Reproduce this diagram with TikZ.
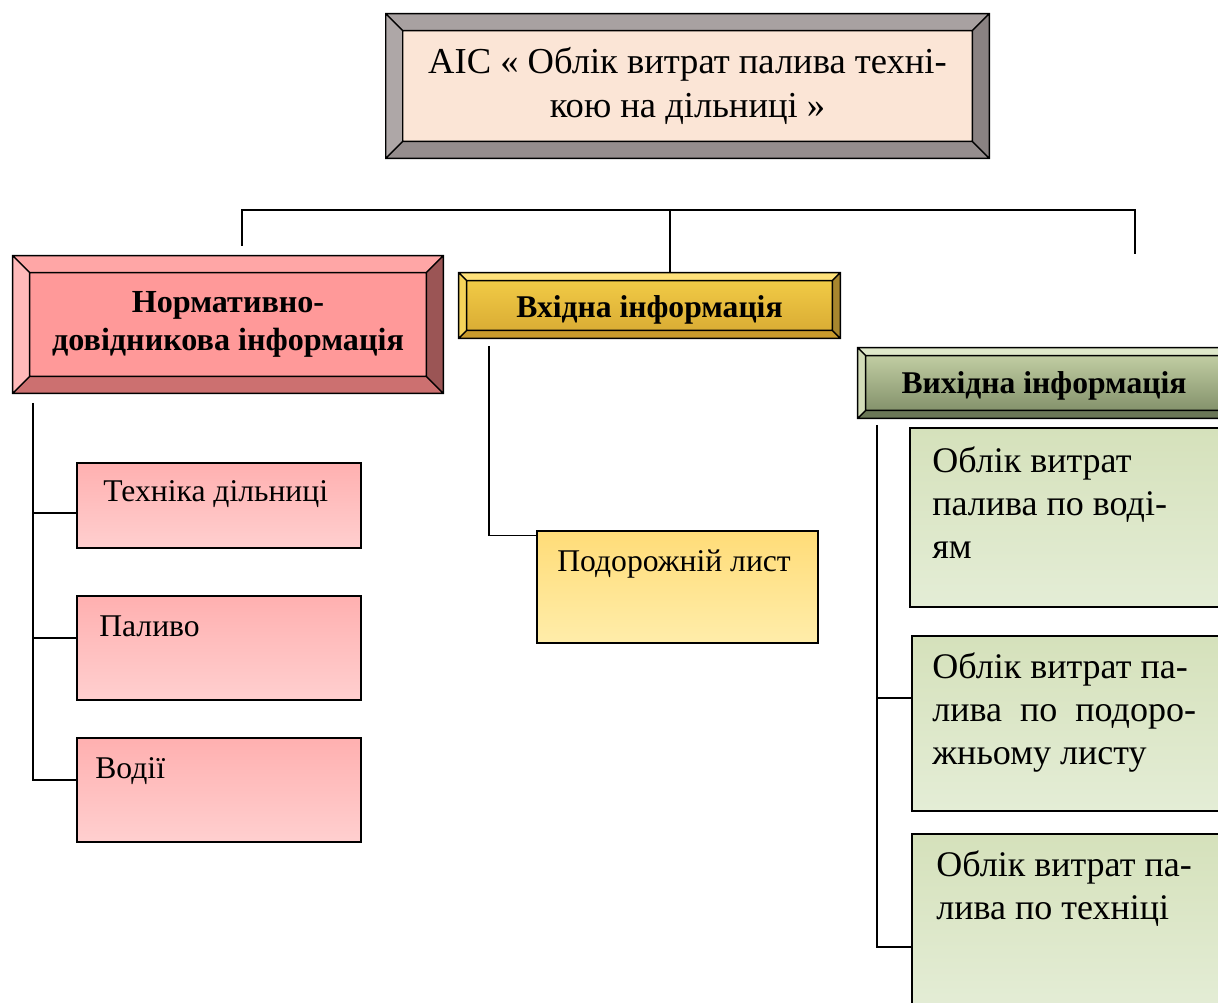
\documentclass[tikz,border=0pt]{standalone}
\usepackage{fontspec}
\setmainfont{Liberation Serif}
\usetikzlibrary{positioning,calc}

\definecolor{titleface}{HTML}{FBE5D6}
\definecolor{titletop}{HTML}{A8A1A1}
\definecolor{titleleft}{HTML}{AEA7A7}
\definecolor{titleright}{HTML}{8A8282}
\definecolor{titlebot}{HTML}{958D8D}
\definecolor{normface}{HTML}{FF9999}
\definecolor{normtopc}{HTML}{FFA6A6}
\definecolor{normleft}{HTML}{FFBABA}
\definecolor{normright}{HTML}{9B5555}
\definecolor{normbot}{HTML}{CC7070}
\definecolor{inface1}{HTML}{F5CF48}
\definecolor{inface2}{HTML}{D6A832}
\definecolor{intopc}{HTML}{FFE27A}
\definecolor{inleft}{HTML}{F5D35A}
\definecolor{inright}{HTML}{A8862E}
\definecolor{inbot}{HTML}{C89A2C}
\definecolor{outface1}{HTML}{C9D5AA}
\definecolor{outface2}{HTML}{7C8A64}
\definecolor{outtopc}{HTML}{DFE8CA}
\definecolor{outleft}{HTML}{D2DCB8}
\definecolor{outright}{HTML}{8E9C72}
\definecolor{outbot}{HTML}{6A7656}
\definecolor{pinktop}{HTML}{FFB0B0}
\definecolor{pinkbot}{HTML}{FFCFCF}
\definecolor{goldtop}{HTML}{FFDC78}
\definecolor{goldbot}{HTML}{FFEDAA}
\definecolor{greentop}{HTML}{D5E1BB}
\definecolor{greenbot}{HTML}{E4EDD6}

% bevelled frame round a node: name, depth, top, left, right, bottom
\newcommand{\bevelbox}[6]{%
  \fill[#3] (#1.north west) -- (#1.north east) -- ($(#1.north east)+(-#2,#2)$) -- ($(#1.north west)+(#2,#2)$) -- cycle;
  \fill[#4] (#1.north west) -- ($(#1.north west)+(#2,#2)$) -- ($(#1.south west)+(#2,-#2)$) -- (#1.south west) -- cycle;
  \fill[#5] (#1.north east) -- ($(#1.north east)+(-#2,#2)$) -- ($(#1.south east)+(-#2,-#2)$) -- (#1.south east) -- cycle;
  \fill[#6] (#1.south west) -- ($(#1.south west)+(#2,-#2)$) -- ($(#1.south east)+(-#2,-#2)$) -- (#1.south east) -- cycle;
  \draw[line width=0.8pt] (#1.north west) rectangle (#1.south east)
    ($(#1.north west)+(#2,#2)$) rectangle ($(#1.south east)+(-#2,-#2)$)
    (#1.north west) -- ++(#2,#2) (#1.north east) -- ++(-#2,#2)
    (#1.south west) -- ++(#2,-#2) (#1.south east) -- ++(-#2,-#2);
}

\begin{document}
\begin{tikzpicture}[x=0.02cm,y=-0.02cm,
    txt/.style={font=\fontsize{18}{24.5}\selectfont,inner sep=0pt,align=left},
    bigtxt/.style={txt,font=\fontsize{20.5}{24.5}\selectfont},
    head/.style={inner sep=0pt,align=center,font=\bfseries\fontsize{18}{21.5}\selectfont},
    leaf/.style={draw,line width=1.1pt,inner sep=0pt},
    link/.style={line width=1.1pt},
    spine/.style={line width=1.6pt}]

    \useasboundingbox (0,0) rectangle (1218,1003);
    \clip (0,0) rectangle (1218,1003);

    % Title
    \node [head,fill=titleface,font=\fontsize{20.8}{25}\selectfont,minimum width=12.06cm,minimum height=2.88cm] (asu) at (687.5,86) {АІС « Облік витрат палива техні-\\кою на дільниці »};
    \bevelbox{asu}{17}{titletop}{titleleft}{titleright}{titlebot}

    % Three headings
    \node [head,fill=normface,font=\bfseries\fontsize{18.3}{21.5}\selectfont,minimum width=8.6cm,minimum height=2.74cm] (norm) at (228,324.5) {Нормативно-\\довідникова інформація};
    \bevelbox{norm}{17}{normtopc}{normleft}{normright}{normbot}

    \node [head,top color=inface1,bottom color=inface2,text height=16pt,text depth=2pt,minimum width=7.62cm,minimum height=1.3cm] (inhead) at (649.5,305.5) {Вхідна інформація};
    \bevelbox{inhead}{8}{intopc}{inleft}{inright}{inbot}

    \node [head,top color=outface1,bottom color=outface2,text height=15pt,text depth=3pt,minimum width=7.44cm,minimum height=1.4cm] (outhead) at (1044,383) {Вихідна інформація};
    \bevelbox{outhead}{8}{outtopc}{outleft}{outright}{outbot}

    % Bus
    \coordinate (busM) at (670,210);
    \coordinate (busR) at (1135,210);
    \coordinate (normtop) at (242,246);
    \coordinate (outtop) at (1135,254);
    \draw [link] (normtop) |- (busR) -- (outtop);
    \draw [link] (busM) -- (busM |- inhead.north);

    % Reference data
    \node [leaf,top color=pinktop,bottom color=pinkbot,minimum width=5.68cm,minimum height=1.7cm] (tech) at (219,505.5) {};
    \node [leaf,top color=pinktop,bottom color=pinkbot,minimum width=5.68cm,minimum height=2.08cm] (fuel) at (219,648) {};
    \node [leaf,top color=pinktop,bottom color=pinkbot,minimum width=5.68cm,minimum height=2.08cm] (drv) at (219,790) {};
    \node [txt,anchor=base west] (techtxt) at (103,502) {Техніка дільниці};
    \node [txt,anchor=base west] (fueltxt) at (99,637) {Паливо};
    \node [txt,anchor=base west] (drvtxt) at (95,778) {Водії};

    \coordinate (lspine) at (33,403);
    \draw [spine] (lspine) |- (drv.176);
    \draw [spine] (lspine |- tech.183) -- (tech.183);
    \draw [spine] (lspine |- fuel.176) -- (fuel.176);

    % Input data
    \node [leaf,top color=goldtop,bottom color=goldbot,minimum width=5.62cm,minimum height=2.24cm] (trip) at (677.5,587) {};
    \node [txt,anchor=base west] (triptxt) at (557,572) {Подорожній лист};

    \coordinate (mspine) at (489,346);
    \draw [link] (mspine) |- (trip.160);

    % Output data
    \node [leaf,top color=greentop,bottom color=greenbot,minimum width=6.4cm,minimum height=3.58cm] (bydrv) at (1070,517.5) {};
    \node [leaf,top color=greentop,bottom color=greenbot,minimum width=6.36cm,minimum height=3.5cm] (bytrip) at (1071,723.5) {};
    \node [leaf,top color=greentop,bottom color=greenbot,minimum width=6.36cm,minimum height=3.52cm] (bytech) at (1071,922) {};
    \node [bigtxt,anchor=north west] (bydrvtxt) at (932,441.75) {\strut Облік витрат\\палива по воді-\\ям};
    \node [bigtxt,anchor=north west] (byttxt) at (932,647.75) {\strut Облік витрат па-\\лива\hspace{0.5em}по\hspace{0.5em}подоро-\\жньому листу};
    \node [bigtxt,anchor=north west] (bytechtxt) at (936,845.75) {\strut Облік витрат па-\\лива по техніці};

    \coordinate (rspine) at (877,425);
    \draw [link] (rspine) |- (bytech.189);
    \draw [link] (rspine |- bytrip.171) -- (bytrip.171);

\end{tikzpicture}
\end{document}
